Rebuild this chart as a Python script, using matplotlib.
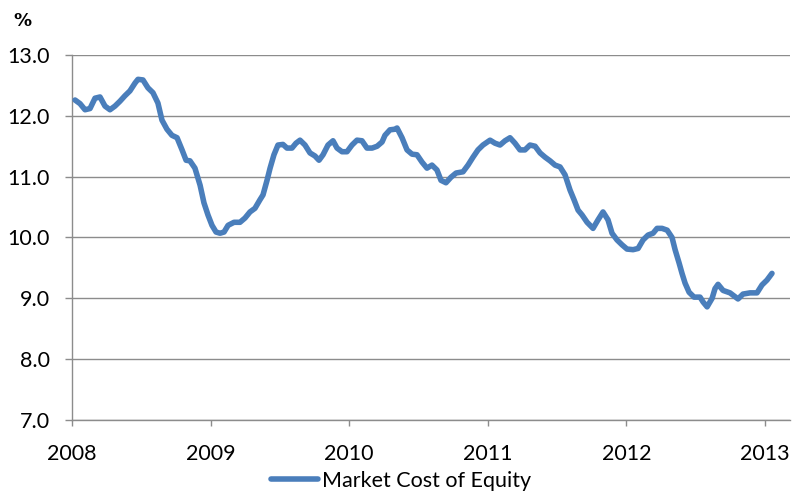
import matplotlib
matplotlib.use("Agg")
import numpy as np
from matplotlib import pyplot as plt

plt.rcParams['font.family'] = ['Lato', 'DejaVu Sans']

# market cost of equity, decimal year vs per cent
years = [2008.022, 2008.058, 2008.094, 2008.130, 2008.166, 2008.202, 2008.238, 2008.274,
         2008.310, 2008.346, 2008.382, 2008.418, 2008.455, 2008.476, 2008.512, 2008.548,
         2008.584, 2008.620, 2008.649, 2008.685, 2008.721, 2008.758, 2008.794, 2008.823,
         2008.851, 2008.887, 2008.924, 2008.952, 2008.981, 2009.010, 2009.039, 2009.068,
         2009.097, 2009.126, 2009.169, 2009.212, 2009.248, 2009.284, 2009.320, 2009.356,
         2009.378, 2009.407, 2009.429, 2009.457, 2009.486, 2009.522, 2009.551, 2009.587,
         2009.616, 2009.645, 2009.681, 2009.717, 2009.753, 2009.782, 2009.811, 2009.847,
         2009.883, 2009.912, 2009.948, 2009.984, 2010.020, 2010.056, 2010.092, 2010.128,
         2010.165, 2010.201, 2010.237, 2010.258, 2010.294, 2010.330, 2010.345, 2010.381,
         2010.417, 2010.453, 2010.489, 2010.525, 2010.561, 2010.597, 2010.633, 2010.662,
         2010.698, 2010.734, 2010.771, 2010.821, 2010.857, 2010.893, 2010.929, 2010.965,
         2011.016, 2011.052, 2011.088, 2011.124, 2011.160, 2011.196, 2011.232, 2011.268,
         2011.304, 2011.341, 2011.377, 2011.413, 2011.449, 2011.485, 2011.521, 2011.557,
         2011.593, 2011.622, 2011.651, 2011.680, 2011.716, 2011.759, 2011.795, 2011.831,
         2011.867, 2011.896, 2011.932, 2011.968, 2012.004, 2012.048, 2012.084, 2012.120,
         2012.156, 2012.192, 2012.221, 2012.257, 2012.294, 2012.329, 2012.351, 2012.380,
         2012.401, 2012.423, 2012.452, 2012.488, 2012.531, 2012.553, 2012.582, 2012.618,
         2012.639, 2012.661, 2012.697, 2012.747, 2012.805, 2012.841, 2012.892, 2012.942,
         2012.978, 2013.014, 2013.050]
cost_of_equity = [12.26, 12.20, 12.10, 12.12, 12.29, 12.31, 12.16, 12.10,
                  12.16, 12.24, 12.33, 12.41, 12.54, 12.60, 12.59, 12.46,
                  12.38, 12.21, 11.93, 11.78, 11.68, 11.64, 11.44, 11.27,
                  11.26, 11.14, 10.86, 10.57, 10.37, 10.20, 10.09, 10.07,
                  10.09, 10.20, 10.25, 10.25, 10.32, 10.42, 10.48, 10.62,
                  10.70, 10.94, 11.14, 11.36, 11.52, 11.53, 11.47, 11.47,
                  11.55, 11.60, 11.52, 11.39, 11.34, 11.27, 11.36, 11.52,
                  11.59, 11.47, 11.41, 11.41, 11.52, 11.60, 11.59, 11.47,
                  11.47, 11.50, 11.57, 11.68, 11.77, 11.78, 11.80, 11.64,
                  11.44, 11.37, 11.36, 11.24, 11.14, 11.19, 11.11, 10.94,
                  10.90, 10.99, 11.06, 11.08, 11.19, 11.32, 11.44, 11.52,
                  11.60, 11.55, 11.52, 11.59, 11.64, 11.55, 11.44, 11.44,
                  11.52, 11.50, 11.39, 11.32, 11.26, 11.19, 11.16, 11.03,
                  10.78, 10.62, 10.45, 10.37, 10.25, 10.15, 10.29, 10.42,
                  10.29, 10.07, 9.96, 9.88, 9.81, 9.80, 9.82, 9.96,
                  10.04, 10.07, 10.15, 10.15, 10.12, 10.00, 9.80, 9.58,
                  9.41, 9.25, 9.10, 9.02, 9.02, 8.94, 8.86, 9.00,
                  9.16, 9.23, 9.13, 9.09, 8.99, 9.07, 9.09, 9.09,
                  9.22, 9.30, 9.41]

year_ticks = [2008, 2009, 2010, 2011, 2012, 2013]
value_ticks = [7.0, 8.0, 9.0, 10.0, 11.0, 12.0, 13.0]

fig = plt.figure(figsize=(7.92, 4.94), dpi=100)
ax = fig.add_axes([72 / 792, 1 - 420 / 494, 718 / 792, 365 / 494])

line, = ax.plot(years, cost_of_equity, color='#4a7ebb', lw=4.0,
                solid_joinstyle='round', solid_capstyle='round', zorder=3)

ax.set_xlim(2008, 2013 + 0.18)
ax.set_ylim(7.0, 13.0)
ax.set_xticks(year_ticks)
ax.set_xticklabels([str(y) for y in year_ticks])
ax.set_yticks(value_ticks)
ax.set_yticklabels(['%.1f' % v for v in value_ticks])

ax.grid(axis='y', color='#8c8c8c', lw=1.0)
ax.set_axisbelow(True)
for side in ['top', 'right']:
    ax.spines[side].set_visible(False)
for side in ['left', 'bottom']:
    ax.spines[side].set_color('#8c8c8c')
    ax.spines[side].set_linewidth(1.0)

ax.tick_params(axis='y', length=5, width=1.0, color='#8c8c8c', pad=11,
               labelsize=15.5, labelcolor='black')
ax.tick_params(axis='x', length=4.5, width=1.0, color='#8c8c8c', pad=13,
               labelsize=15.5, labelcolor='black')

fig.text(13 / 792, 1 - 21 / 494, '%', fontsize=13, fontweight='bold',
         family=['DejaVu Sans'], va='center', ha='left')

fig.legend([line], ['Market Cost of Equity'], loc='center',
           bbox_to_anchor=(401 / 792, 1 - 481 / 494), frameon=False,
           fontsize=15.5, handlelength=2.2, handletextpad=0.2)

fig.savefig('out.png', dpi=100)
